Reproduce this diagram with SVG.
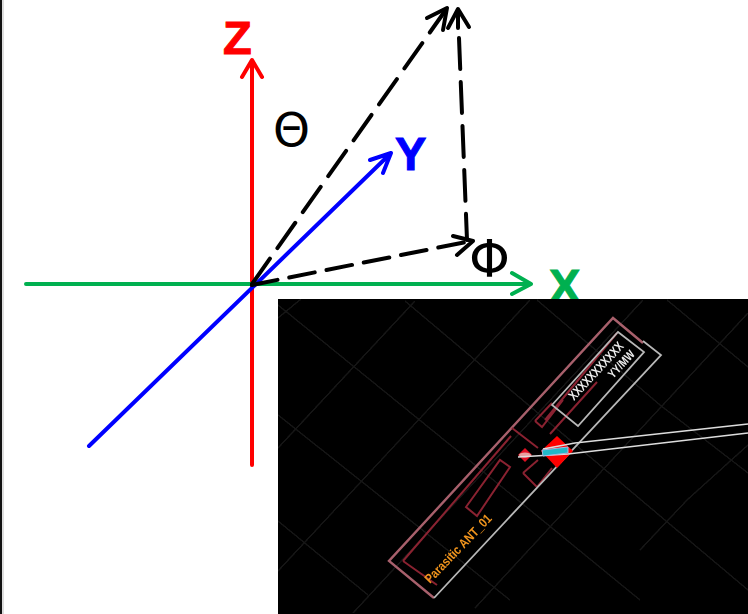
<svg xmlns="http://www.w3.org/2000/svg" width="748" height="614" viewBox="0 0 748 614">
<defs><filter id="soft" x="0" y="0" width="1" height="1"><feGaussianBlur stdDeviation="0.6"/></filter></defs>
<style>
.ax{fill:none;stroke-width:4;stroke-linecap:round;stroke-linejoin:round}
.blk{stroke:#000}
.r{stroke:#f00}.g{stroke:#00b050}.b{stroke:#00f}
.lab{font-family:"Liberation Sans",Arial,sans-serif;font-weight:700;font-size:47px;stroke-width:1}
.sym{font-family:"DejaVu Sans",sans-serif;font-size:47px;fill:#000}
.grid{fill:none;stroke:#191919;stroke-width:1.3}
.tr{fill:none;stroke:#8a2230;stroke-width:2}
.wh{fill:none;stroke:#b8b8b8;stroke-width:1.8}
.pk{fill:none;stroke:#a8606c;stroke-width:2.4}
.tx{font-family:"Liberation Sans",Arial,sans-serif;font-weight:700}
</style>
<rect width="748" height="614" fill="#fff"/>
<rect x="0" y="0" width="2" height="614" fill="#111"/>
<rect x="2" y="0" width="2" height="614" fill="#ddd"/>
<g id="connectors">
<path class="ax r" d="M252 465V61M242 77L252 60L262 77"/>
<path class="ax g" d="M26 284H530M512 273L531 284L512 294"/>
<path class="ax b" d="M89 446L389 155M370 160L391 153L383 173"/>
<path class="ax blk" stroke-dasharray="31 13" d="M252 284L445 11"/>
<path class="ax blk" d="M427 18L447 8L443 30"/>
<path class="ax blk" stroke-dasharray="31 13" d="M459 38L467 240"/>
<path class="ax blk" d="M458 10V28M448 28L458 9L469 27"/>
<path class="ax blk" stroke-dasharray="26 12" d="M252 285L471 241"/>
<path class="ax blk" d="M453 236L473 241L457 255"/>
</g>
<g id="label-z"><text class="lab" x="223" y="54" fill="#f00" stroke="#f00">Z</text></g>
<g id="label-y"><text class="lab" x="395" y="170" fill="#00f" stroke="#00f">Y</text></g>
<g id="label-x"><text class="lab" x="549" y="302" fill="#00b050" stroke="#00b050">X</text></g>
<g id="label-theta"><text class="sym" x="273" y="146">Θ</text></g>
<g id="label-phi"><text class="sym" x="469" y="277" style="font-size:52px">Φ</text></g>
<g id="antenna-photo">
<rect x="278" y="299" width="470" height="315" fill="#000"/>
<g filter="url(#soft)">
<path class="grid" d="M278 305L475 465L640 600M405 301L475 360L748 590M537 300L660 405L748 473M667 300L748 367M278 415L361 481L510 600M278 521L368 595M301 299L278 318M415 301L278 448M530 300L278 571M643 300L353 613M748 313L475 608M748 445L687 500L640 550"/>
<path class="pk" d="M434 598L389 561L613 318L643 343"/>
<path class="tr" d="M403 561L437 585M403 561L511 436M512 428L538 448M466 507L500 460L510 467L477 516ZM523 473L538 460M523 473L537 487L552 468M535 421L552 403M535 421L542 427L563 400M550 434L597 382M545 420L617 333"/>
<path class="wh" d="M434 598L661 355L643 341M552 405L618 332L644 352L578 426Z"/>
<path d="M557 436L573 451L557 468L541 451Z" fill="#f00"/>
<path d="M525 448L532 455L525 462L518 455Z" fill="#e01020"/>
<ellipse cx="525" cy="455" rx="6" ry="2.5" fill="#e8a0a0"/>
<path fill="none" stroke="#ddd" stroke-width="1.6" d="M748 424L575 443L543 449M748 433L568 454L518 457"/>
<path d="M542 450L568 447L568 453L543 456Z" fill="#22b8c8" stroke="#a8b8e0"/>
<text class="tx" x="430" y="584" transform="rotate(-46 430 584)" font-size="13" fill="#f0941e" textLength="90" lengthAdjust="spacingAndGlyphs">Parasitic ANT_01</text>
<text class="tx" x="574" y="401" transform="rotate(-47 574 401)" font-size="13" fill="#eee" textLength="74" lengthAdjust="spacingAndGlyphs">XXXXXXXXXXX</text>
<text class="tx" x="613" y="379" transform="rotate(-47 613 379)" font-size="12" fill="#eee" textLength="33" lengthAdjust="spacingAndGlyphs">YY/MW</text>
</g>
</g>
</svg>
